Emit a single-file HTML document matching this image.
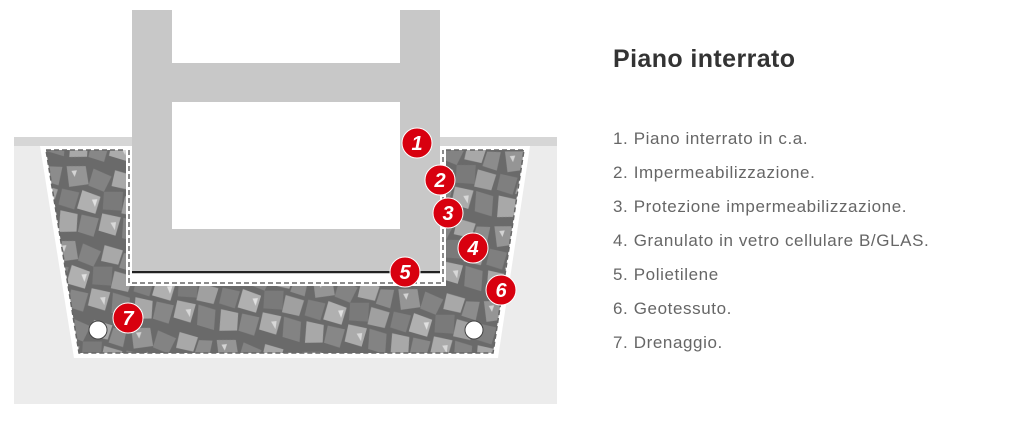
<!DOCTYPE html>
<html><head><meta charset="utf-8"><style>
html,body{margin:0;padding:0;background:#fff;width:1036px;height:436px;overflow:hidden;font-family:"Liberation Sans",sans-serif}
svg{position:absolute;left:0;top:0}
.t{position:absolute;left:613px;top:45px;font-size:25px;font-weight:bold;color:#333;letter-spacing:0.4px}
.l{position:absolute;left:613px;font-size:17px;color:#666;white-space:nowrap;letter-spacing:0.6px}
</style></head><body>
<svg width="1036" height="436" viewBox="0 0 1036 436">
<defs>
<pattern id="g" width="64" height="56" patternUnits="userSpaceOnUse" patternTransform="scale(1.35) rotate(8)">
<rect width="64" height="56" fill="#6a6a6a"/>
<polygon points="2,3 16,1 20,14 6,18" fill="#959595"/>
<polygon points="22,2 36,6 32,18 20,15" fill="#838383"/>
<polygon points="38,1 52,3 50,14 37,13" fill="#a8a8a8"/>
<polygon points="53,5 63,4 62,18 51,16" fill="#8c8c8c"/>
<polygon points="1,20 14,21 12,34 0,32" fill="#7f7f7f"/>
<polygon points="16,19 30,22 28,35 14,33" fill="#b0b0b0"/>
<polygon points="32,18 46,16 47,30 33,31" fill="#7a7a7a"/>
<polygon points="48,19 62,21 60,33 47,32" fill="#a0a0a0"/>
<polygon points="2,36 15,37 16,50 3,52" fill="#a8a8a8"/>
<polygon points="18,37 31,38 29,52 17,50" fill="#878787"/>
<polygon points="33,34 47,35 45,49 32,47" fill="#ababab"/>
<polygon points="49,35 62,37 63,52 50,50" fill="#838383"/>
<polygon points="24,25 28,24 27,30" fill="#e0e0e0"/>
<polygon points="40,40 44,39 44,45" fill="#d8d8d8"/>
<polygon points="6,6 10,5 9,10" fill="#d4d4d4"/>
</pattern>
</defs>
<rect x="14" y="146" width="543" height="258" fill="#ececec"/>
<rect x="14" y="137" width="543" height="9" fill="#d6d6d6"/>
<polygon points="40,146 530,146 498,358 74,358" fill="#fff"/>
<polygon points="46,150 524,150 493,353 79,353" fill="url(#g)"/>
<polygon points="46,150 524,150 493,353 79,353" fill="none" stroke="#666" stroke-width="1.5" stroke-dasharray="5,3"/>
<rect x="126" y="146" width="320" height="140" fill="#fff"/>
<polyline points="129,150 129,283 443,283 443,150" fill="none" stroke="#666" stroke-width="1.5" stroke-dasharray="5,3"/>
<rect x="132" y="10" width="308" height="264" fill="#c8c8c8"/>
<rect x="172" y="10" width="228" height="53" fill="#fff"/>
<rect x="172" y="102" width="228" height="127" fill="#fff"/>
<rect x="132" y="271" width="308" height="2" fill="#222"/>
<circle cx="98" cy="330" r="9" fill="#fff" stroke="#444" stroke-width="1"/>
<circle cx="474" cy="330" r="9" fill="#fff" stroke="#444" stroke-width="1"/>
<g fill="#d8000f" stroke="#fff" stroke-width="1">
<circle cx="417" cy="143" r="15"/><circle cx="440" cy="180" r="15"/><circle cx="448" cy="213" r="15"/>
<circle cx="473" cy="248" r="15"/><circle cx="405" cy="272" r="15"/><circle cx="501" cy="290" r="15"/>
<circle cx="128" cy="318" r="15"/>
</g>
<g fill="#fff" font-family="Liberation Sans" font-weight="bold" font-style="italic" font-size="20" text-anchor="middle">
<text x="417" y="150">1</text><text x="440" y="187">2</text><text x="448" y="220">3</text>
<text x="473" y="255">4</text><text x="405" y="279">5</text><text x="501" y="297">6</text><text x="128" y="325">7</text>
</g>
</svg>
<div class="t">Piano interrato</div>
<div class="l" style="top:129px">1. Piano interrato in c.a.</div>
<div class="l" style="top:163px">2. Impermeabilizzazione.</div>
<div class="l" style="top:197px">3. Protezione impermeabilizzazione.</div>
<div class="l" style="top:231px">4. Granulato in vetro cellulare B/GLAS.</div>
<div class="l" style="top:265px">5. Polietilene</div>
<div class="l" style="top:299px">6. Geotessuto.</div>
<div class="l" style="top:333px">7. Drenaggio.</div>
</body></html>
